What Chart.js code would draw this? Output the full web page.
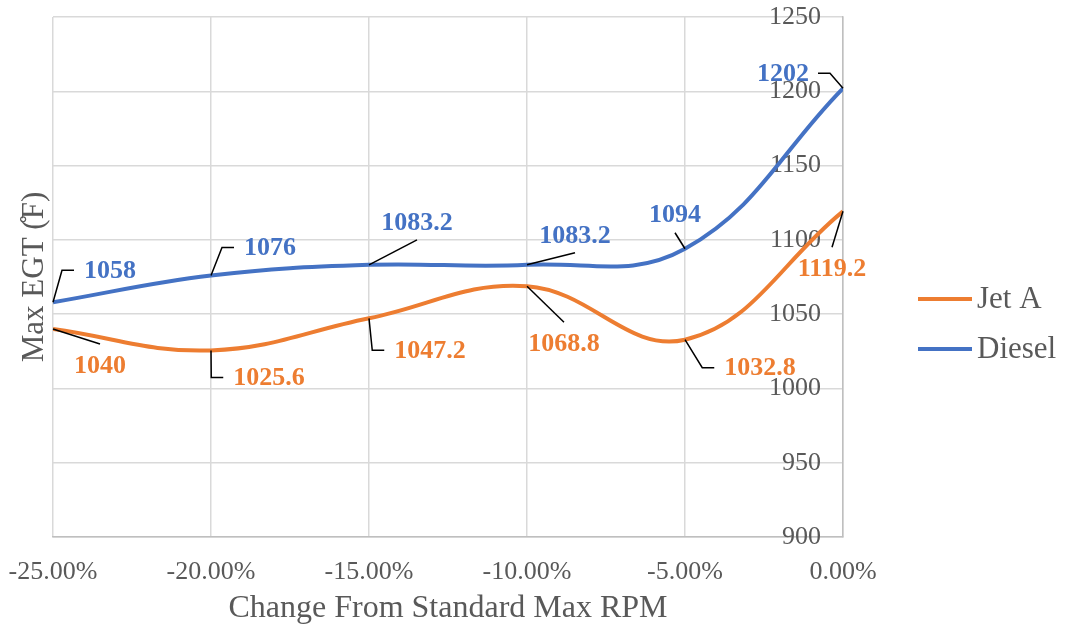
<!DOCTYPE html>
<html>
<head>
<meta charset="utf-8">
<script src="https://cdn.jsdelivr.net/npm/chart.js@4.4.1/dist/chart.umd.min.js"></script>
<style>
    html, body { margin: 0; padding: 0; background: #ffffff; }
    #wrap { width: 1065px; height: 630px; }
</style>
</head>
<body>
<div id="wrap"><canvas id="egt-chart"></canvas></div>
<script>
// ===== DATA =====
const rpmChange = [-25, -20, -15, -10, -5, 0];            // % change from standard max RPM
const jetA = [1040, 1025.6, 1047.2, 1068.8, 1032.8, 1119.2];
const diesel = [1058, 1076, 1083.2, 1083.2, 1094, 1202];
const seriesNames = ['Jet A', 'Diesel'];
const xTickLabels = ['-25.00%', '-20.00%', '-15.00%', '-10.00%', '-5.00%', '0.00%'];
const yMin = 900, yMax = 1250, yStep = 50;

// label placement relative to the point: [dx, dy, side the leader attaches to]
const jetALabelPos = [[47, 36, 'T'], [58, 27, 'L'], [61, 32, 'L'], [37, 57, 'T'], [75, 28, 'L'], [-11, 57, 'T']];
const dieselLabelPos = [[57, -32, 'L'], [59, -28, 'L'], [48, -43, 'B'], [48, -30, 'B'], [-10, -34, 'B'], [-60, -15, 'R']];

// ===== STYLE =====
const ORANGE = '#ED7D31';
const BLUE = '#4472C4';
const TEXT_GREY = '#595959';
const GRID = '#D9D9D9';
const FONT = 'Liberation Serif';

// ===== PLUGINS =====

// data labels with leader lines (Excel style)
const leaderLabels = {
    id: 'leaderLabels',
    afterDatasetsDraw(chart) {
        const ctx = chart.ctx;
        ctx.save();
        ctx.font = 'bold 26px "' + FONT + '"';
        ctx.textBaseline = 'middle';
        ctx.textAlign = 'center';
        chart.data.datasets.forEach((ds, di) => {
            const meta = chart.getDatasetMeta(di);
            meta.data.forEach((pt, i) => {
                const [dx, dy, side] = ds.labelPos[i];
                const text = String(ds.data[i].y);
                const w = ctx.measureText(text).width;
                const cx = pt.x + dx;
                const cy = pt.y + dy;

                // leader line
                ctx.strokeStyle = '#000000';
                ctx.lineWidth = 1.5;
                ctx.beginPath();
                ctx.moveTo(pt.x, pt.y);
                if (side === 'L') {
                    const end = cx - w / 2 - 10;
                    ctx.lineTo(end - 12, cy);
                    ctx.lineTo(end, cy);
                } else if (side === 'R') {
                    const end = cx + w / 2 + 9;
                    ctx.lineTo(end + 12, cy);
                    ctx.lineTo(end, cy);
                } else if (side === 'T') {
                    ctx.lineTo(cx, cy - 21);
                } else {
                    ctx.lineTo(cx, cy + 18);
                }
                ctx.stroke();

                ctx.fillStyle = ds.borderColor;
                ctx.fillText(text, cx, cy + 1);
            });
        });
        ctx.restore();
    }
};

// legend to the right of the plot
const sideLegend = {
    id: 'sideLegend',
    afterDraw(chart) {
        const ctx = chart.ctx;
        const x0 = chart.chartArea.right + 75;
        const y0 = 299;
        ctx.save();
        ctx.font = '31px "' + FONT + '"';
        ctx.textBaseline = 'middle';
        ctx.textAlign = 'left';
        chart.data.datasets.forEach((ds, i) => {
            const y = y0 + i * 50;
            ctx.strokeStyle = ds.borderColor;
            ctx.lineWidth = 4;
            ctx.beginPath();
            ctx.moveTo(x0, y);
            ctx.lineTo(x0 + 54, y);
            ctx.stroke();
            ctx.fillStyle = TEXT_GREY;
            ctx.fillText(ds.label, x0 + 59, y + 1);
        });
        ctx.restore();
    }
};

// ===== CHART =====
function make_points(values) {
    return rpmChange.map((x, i) => ({ x: x, y: values[i] }));
}

function init_chart() {
    const ctx = document.getElementById('egt-chart').getContext('2d');

    new Chart(ctx, {
        type: 'line',
        data: {
            datasets: [
                {
                    label: seriesNames[0],
                    data: make_points(jetA),
                    labelPos: jetALabelPos,
                    borderColor: ORANGE,
                    backgroundColor: ORANGE,
                    borderWidth: 4,
                    pointRadius: 0,
                    tension: 0.4,
                    fill: false,
                    xAxisID: 'x',
                    yAxisID: 'y'
                },
                {
                    label: seriesNames[1],
                    data: make_points(diesel),
                    labelPos: dieselLabelPos,
                    borderColor: BLUE,
                    backgroundColor: BLUE,
                    borderWidth: 4,
                    pointRadius: 0,
                    tension: 0.4,
                    fill: false,
                    xAxisID: 'x',
                    yAxisID: 'y'
                }
            ]
        },
        options: {
            responsive: true,
            maintainAspectRatio: false,
            animation: false,
            layout: { padding: { top: 17, right: 0, bottom: 0, left: 0 } },
            scales: {
                x: {
                    type: 'linear',
                    position: 'bottom',
                    min: rpmChange[0],
                    max: rpmChange[rpmChange.length - 1],
                    afterBuildTicks: (scale) => {
                        scale.ticks = rpmChange.map(v => ({ value: v }));
                    },
                    afterFit: (scale) => {
                        scale.height = 93;
                        // labels may overhang into the side boxes
                        scale.paddingLeft = 0;
                        scale.paddingRight = 0;
                    },
                    ticks: {
                        color: TEXT_GREY,
                        font: { family: FONT, size: 26 },
                        padding: 20,
                        maxRotation: 0,
                        autoSkip: false,
                        callback: (value) => xTickLabels[rpmChange.indexOf(value)]
                    },
                    grid: { color: GRID, lineWidth: 1.5, drawTicks: false },
                    border: { color: '#BFBFBF', width: 1.5 },
                    title: {
                        display: true,
                        text: 'Change From Standard Max RPM',
                        color: TEXT_GREY,
                        font: { family: FONT, size: 32 },
                        padding: { top: 0, bottom: 2 }
                    }
                },
                yTitle: {
                    type: 'linear',
                    position: 'left',
                    afterFit: (scale) => { scale.width = 53; },
                    ticks: { display: false },
                    grid: { display: false },
                    border: { display: false },
                    title: {
                        display: true,
                        text: 'Max EGT (\u030AF)',
                        color: TEXT_GREY,
                        font: { family: FONT, size: 31 },
                        padding: { top: 16, bottom: 0 }
                    }
                },
                y: {
                    type: 'linear',
                    position: 'right',
                    min: yMin,
                    max: yMax,
                    afterFit: (scale) => { scale.width = 222; },
                    ticks: {
                        stepSize: yStep,
                        mirror: true,
                        padding: -22,
                        color: TEXT_GREY,
                        font: { family: FONT, size: 26 },
                        callback: (value) => String(value)
                    },
                    grid: { color: GRID, lineWidth: 1.5, drawTicks: false },
                    border: { color: '#BFBFBF', width: 1.5 }
                }
            },
            plugins: {
                legend: { display: false },
                tooltip: { enabled: false }
            }
        },
        plugins: [leaderLabels, sideLegend]
    });
}

window.addEventListener('load', () => {
    init_chart();
});
</script>
</body>
</html>
